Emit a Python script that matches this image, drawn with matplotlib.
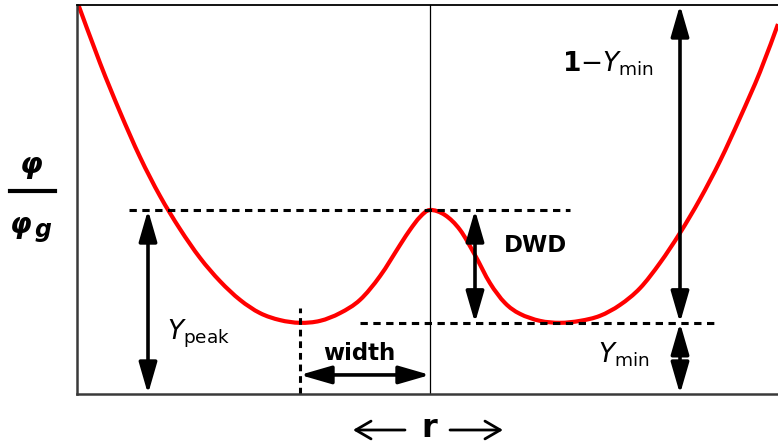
"""
    Schematic of a double-well profile phi/phi_g across r,
    with the barrier height, well depth and width markers.
"""

import numpy as np
import matplotlib.pyplot as plt
from matplotlib.patches import ArrowStyle, PathPatch, FancyArrowPatch
from matplotlib.path import Path
from matplotlib.lines import Line2D

plt.rcParams.update({
    "font.family": "DejaVu Sans",
    "mathtext.fontset": "dejavusans",
})

# profile samples (r, phi/phi_g)
r_vals = [-3.53, -3.30, -3.10, -2.90, -2.70, -2.50, -2.30, -2.10, -1.90, -1.70,
          -1.50, -1.30, -1.10, -0.90, -0.70, -0.50, -0.30, -0.20, -0.10, 0.00,
          0.15, 0.30, 0.45, 0.60, 0.75, 0.90, 1.10, 1.30, 1.50, 1.70,
          1.90, 2.10, 2.30, 2.50, 2.70, 2.90, 3.10, 3.30, 3.48]
phi_vals = [1.010, 0.851, 0.725, 0.609, 0.509, 0.424, 0.350, 0.290, 0.242, 0.208,
            0.190, 0.183, 0.188, 0.208, 0.242, 0.303, 0.383, 0.422, 0.455, 0.473,
            0.460, 0.422, 0.357, 0.285, 0.234, 0.206, 0.188, 0.183, 0.188, 0.201,
            0.229, 0.272, 0.337, 0.414, 0.501, 0.599, 0.710, 0.828, 0.951]

Y_PEAK = 0.473
Y_MIN = 0.183
R_LEFT_MIN = -1.30

RED = "#ff0000"
LW_CURVE = 3.0
LW_ARROW = 2.6
DASH_LW = 2.2
FONTSIZE = 16.5
SYM_SIZE = 19

fig = plt.figure(figsize=(7.78, 4.44), dpi=100)
ax = fig.add_axes([77/778, 50/444, 713/778, 389/444])
ax.set_xlim(-3.53, 3.60)
ax.set_ylim(0, 1)
ax.set_xticks([])
ax.set_yticks([])
ax.spines["right"].set_visible(False)
ax.spines["top"].set_linewidth(1.3)
for side in ["left", "bottom"]:
    ax.spines[side].set_linewidth(1.8)
    ax.spines[side].set_color("#3a3a3a")

# centre line
ax.axvline(0, color="black", lw=0.9)

# reference levels
dash = (0, (2.4, 1.8))
ax.plot([-3.01, 1.40], [Y_PEAK, Y_PEAK], color="black", lw=DASH_LW, ls=dash)
ax.plot([-0.70, 2.88], [Y_MIN, Y_MIN], color="black", lw=DASH_LW, ls=dash)
ax.plot([R_LEFT_MIN, R_LEFT_MIN], [0, 0.22], color="black", lw=DASH_LW,
        ls=(0, (2.2, 1.6)))


def smooth_path(xs, ys):
    # Catmull-Rom through the samples, written as cubic Bezier segments
    pts = np.column_stack([xs, ys])
    ext = np.vstack([pts[0], pts, pts[-1]])
    verts = [pts[0]]
    codes = [Path.MOVETO]
    for i in range(1, len(ext) - 2):
        p0, p1, p2, p3 = ext[i - 1], ext[i], ext[i + 1], ext[i + 2]
        verts += [p1 + (p2 - p0) / 6, p2 - (p3 - p1) / 6, p2]
        codes += [Path.CURVE4] * 3
    return Path(verts, codes)


ax.add_patch(PathPatch(smooth_path(r_vals, phi_vals), facecolor="none",
                       edgecolor=RED, lw=LW_CURVE))

arrow = ArrowStyle("<|-|>", head_length=1.9, head_width=0.55)


def double_arrow(p0, p1):
    ax.annotate("", xy=p1, xytext=p0,
                arrowprops=dict(arrowstyle=arrow, mutation_scale=10,
                                lw=LW_ARROW, color="black",
                                shrinkA=0, shrinkB=0))


double_arrow((-2.82, Y_PEAK), (-2.82, 0))
double_arrow((R_LEFT_MIN, 0.049), (0, 0.049))
double_arrow((0.45, Y_PEAK), (0.45, Y_MIN))
double_arrow((2.50, Y_MIN), (2.50, 1.0))
double_arrow((2.50, Y_MIN), (2.50, 0))

ax.text(1.32, 0.828, r"$\mathbf{1}{-}Y_{\mathregular{min}}$", fontsize=SYM_SIZE,
        ha="left", va="baseline")
ax.text(-2.63, 0.139, r"$Y_{\mathregular{peak}}$", fontsize=SYM_SIZE,
        ha="left", va="baseline")
ax.text(1.68, 0.082, r"$Y_{\mathregular{min}}$", fontsize=SYM_SIZE,
        ha="left", va="baseline")

ax.text(1.06, 0.383, "DWD", fontsize=FONTSIZE, fontweight="bold",
        ha="center", va="center")
ax.text(-0.71, 0.105, "width", fontsize=FONTSIZE, fontweight="bold",
        ha="center", va="center")

# y label drawn as a fraction
fig.text(31/778, 1 - 165/444, "\u03c6", fontsize=21, fontweight="bold",
         style="italic", ha="center", va="center")
fig.add_artist(Line2D([10/778, 55/778], [1 - 191/444, 1 - 191/444],
                      color="black", lw=3.0))
fig.text(21/778, 1 - 225/444, "\u03c6", fontsize=20, fontweight="bold",
         style="italic", ha="center", va="center")
fig.text(43/778, 1 - 230/444, "g", fontsize=17, fontweight="bold",
         style="italic", ha="center", va="center")

# x label: r with long arrows either side
xarrow = ArrowStyle("->", head_length=0.55, head_width=0.32)
ylab = 1 - 430/444
for x0, x1 in [(405, 353), (450, 503)]:
    fig.add_artist(FancyArrowPatch(
        (x0/778, ylab), (x1/778, ylab), transform=fig.transFigure,
        arrowstyle=xarrow, mutation_scale=20, lw=2.0, color="black",
        shrinkA=0, shrinkB=0))
fig.text(429/778, 1 - 428/444, "r", fontsize=23, fontweight="bold",
         ha="center", va="center")

fig.savefig("out.png", dpi=100)
